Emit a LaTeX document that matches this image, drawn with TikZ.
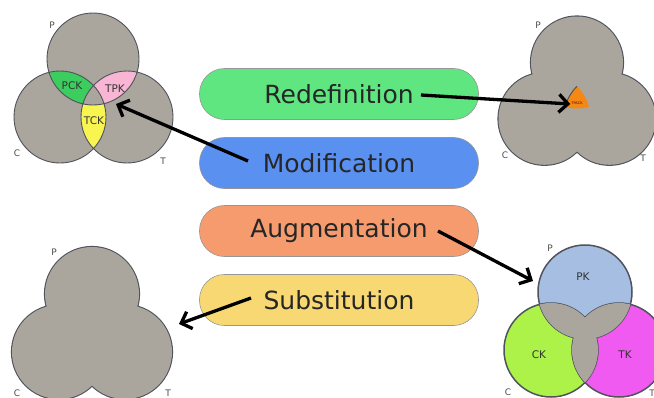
\documentclass[tikz,border=0pt]{standalone}
\usepackage{fontspec}
\setmainfont{DejaVu Sans}
\usetikzlibrary{arrows.meta, positioning}

\definecolor{venngray}{RGB}{171,166,157}
\definecolor{ringline}{RGB}{80,82,92}
\definecolor{pckgreen}{RGB}{60,205,95}
\definecolor{tpkpink}{RGB}{248,182,212}
\definecolor{tckyellow}{RGB}{248,245,80}
\definecolor{tpackorange}{RGB}{245,135,20}
\definecolor{pkblue}{RGB}{165,190,225}
\definecolor{cklime}{RGB}{172,242,72}
\definecolor{tkmagenta}{RGB}{240,90,240}
\definecolor{redefgreen}{RGB}{95,230,128}
\definecolor{modifblue}{RGB}{90,145,240}
\definecolor{augmsalmon}{RGB}{245,155,110}
\definecolor{substyellow}{RGB}{248,216,115}
\definecolor{pillline}{RGB}{150,150,150}

\begin{document}
\begin{tikzpicture}[x=1pt, y=-1pt,
    pill/.style={draw=pillline, line width=0.6pt, rounded corners=25pt,
        minimum width=279pt, minimum height=51pt,
        font=\fontsize{25}{30}\selectfont, text=black!85},
    ring/.style={draw=ringline, line width=0.9pt},
    hull/.style={draw=ringline, line width=2.2pt},
    lbl/.style={font=\fontsize{9}{10}\selectfont, text=black!70, inner sep=0pt},
    part/.style={font=\fontsize{10.5}{12}\selectfont, text=black!80, inner sep=0pt},
    arr/.style={line width=3.3pt, -{Straight Barb[length=9pt, width=18pt]}}]

    \useasboundingbox (0,0) rectangle (654,397);

    % top left: three circles with coloured pairs
    \coordinate (P1) at (93,59);
    \coordinate (C1) at (60,117);
    \coordinate (T1) at (127,117);
    \fill[venngray] (P1) circle (46pt) (C1) circle (46pt) (T1) circle (46pt);
    \begin{scope}
        \clip (P1) circle (46pt);
        \clip (C1) circle (46pt);
        \fill[pckgreen] (P1) circle (46pt);
        \fill[venngray] (T1) circle (46pt);
    \end{scope}
    \begin{scope}
        \clip (P1) circle (46pt);
        \clip (T1) circle (46pt);
        \fill[tpkpink] (P1) circle (46pt);
        \fill[venngray] (C1) circle (46pt);
    \end{scope}
    \begin{scope}
        \clip (C1) circle (46pt);
        \clip (T1) circle (46pt);
        \fill[tckyellow] (C1) circle (46pt);
        \fill[venngray] (P1) circle (46pt);
    \end{scope}
    \draw[ring] (P1) circle (46pt) (C1) circle (46pt) (T1) circle (46pt);
    \node[part] (pck) at (72,86) {PCK};
    \node[part] (tpk) at (115,89) {TPK};
    \node[part] (tck) at (94,121) {TCK};
    \node[lbl] (p1) at (52,25) {P};
    \node[lbl] (c1) at (17,153) {C};
    \node[lbl] (t1) at (163,161) {T};
    \coordinate (tpktip) at (116,104);

    % top right: merged circles with the orange centre
    \coordinate (P2) at (577,62.5);
    \coordinate (C2) at (544.5,118.8);
    \coordinate (T2) at (609.5,118.8);
    \draw[hull] (P2) circle (46pt) (C2) circle (46pt) (T2) circle (46pt);
    \fill[venngray] (P2) circle (46pt) (C2) circle (46pt) (T2) circle (46pt);
    \begin{scope}
        \clip (P2) circle (46pt);
        \clip (C2) circle (46pt);
        \filldraw[fill=tpackorange, draw=ringline, line width=1pt] (T2) circle (46pt);
    \end{scope}
    \node[font=\fontsize{3.5}{4}\selectfont, text=red!40!black, inner sep=1pt] (tpack) at (577,103) {TPACK};
    \node[lbl] (p2) at (538,25) {P};
    \node[lbl] (c2) at (505,155) {C};
    \node[lbl] (t2) at (643,158) {T};

    % bottom left: merged circles
    \coordinate (P3) at (92,294);
    \coordinate (C3) at (59,352);
    \coordinate (T3) at (125,352);
    \draw[hull] (P3) circle (47pt) (C3) circle (47pt) (T3) circle (47pt);
    \fill[venngray] (P3) circle (47pt) (C3) circle (47pt) (T3) circle (47pt);
    \node[lbl] (p3) at (54,252) {P};
    \node[lbl] (c3) at (17,393) {C};
    \node[lbl] (t3) at (168,393) {T};
    \coordinate (subtip) at (179,324);

    % bottom right: coloured circles, grey overlaps
    \coordinate (P4) at (585,292);
    \coordinate (C4) at (551,350);
    \coordinate (T4) at (619,350);
    \fill[pkblue] (P4) circle (47pt);
    \fill[cklime] (C4) circle (47pt);
    \fill[tkmagenta] (T4) circle (47pt);
    \draw[ring, line width=1.5pt] (P4) circle (47pt) (C4) circle (47pt) (T4) circle (47pt);
    \begin{scope}
        \clip (P4) circle (47pt);
        \fill[venngray] (C4) circle (47pt) (T4) circle (47pt);
    \end{scope}
    \begin{scope}
        \clip (C4) circle (47pt);
        \fill[venngray] (T4) circle (47pt);
    \end{scope}
    \node[part] (pk) at (583,277) {PK};
    \node[part] (ck) at (539,355) {CK};
    \node[part] (tk) at (625,355) {TK};
    \node[lbl] (p4) at (550,248) {P};
    \node[lbl] (c4) at (508,392) {C};
    \node[lbl] (t4) at (652,393) {T};
    \coordinate (pkin) at (533,281);

    % the four pills
    \node[pill, fill=redefgreen] (redef) at (339,94) {Redefinition};
    \node[pill, fill=modifblue] (modif) at (339,163) {Modification};
    \node[pill, fill=augmsalmon] (augm) at (339,231) {Augmentation};
    \node[pill, fill=substyellow] (subst) at (339,300) {Substitution};

    \coordinate (redefout) at ([xshift=82pt, yshift=-1pt]redef.center);
    \coordinate (modifout) at ([xshift=-91pt, yshift=2pt]modif.center);
    \coordinate (augmout) at ([xshift=99pt]augm.center);
    \coordinate (substout) at ([xshift=-88pt, yshift=2pt]subst.center);

    \draw[arr] (redefout) -- ([yshift=-1pt]tpack.west);
    \draw[arr] (modifout) -- (tpktip);
    \draw[arr] (augmout) -- (pkin);
    \draw[arr] (substout) -- (subtip);
\end{tikzpicture}
\end{document}
